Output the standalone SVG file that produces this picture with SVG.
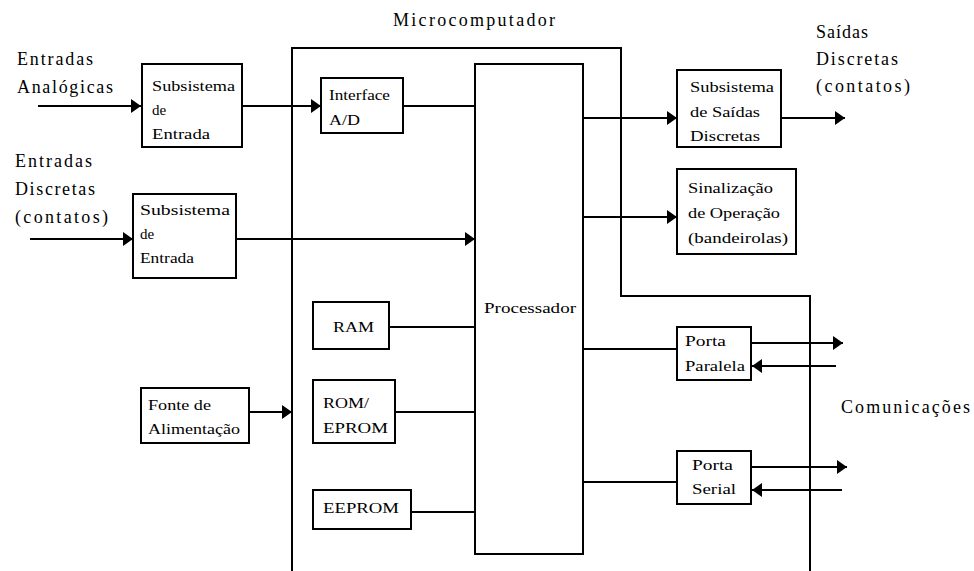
<svg xmlns="http://www.w3.org/2000/svg" width="974" height="571" viewBox="0 0 974 571" font-family="Liberation Serif, DejaVu Serif, serif">
<style>
  .box { fill: #fff; stroke: #000; stroke-width: 2; }
  .frame { fill: none; stroke: #000; stroke-width: 2; }
  .wire { fill: none; stroke: #000; stroke-width: 2; }
  .arr { marker-end: url(#ah); }
  .lbl { font-size: 18px; fill: #000; }
  .txt { font-size: 15px; fill: #000; }
</style>
<defs>
  <marker id="ah" markerUnits="userSpaceOnUse" markerWidth="10" markerHeight="14" refX="10" refY="7" orient="auto" viewBox="0 0 10 14">
    <path d="M0,0 L10,7 L0,14 z" fill="#000"/>
  </marker>
</defs>
<rect width="974" height="571" fill="#fff"/>

<g id="microcomputador">
  <path class="frame" d="M292,571 V48 H621 V296 H810 V571"/>
  <text class="lbl" x="393" y="26" textLength="162" lengthAdjust="spacing" font-family="Liberation Serif, serif">Microcomputador</text>
</g>

<g id="label-entradas-analogicas" font-family="Liberation Serif, serif">
  <text class="lbl" x="17" y="65" textLength="76" lengthAdjust="spacing">Entradas</text>
  <text class="lbl" x="17" y="93" textLength="96" lengthAdjust="spacing">Analógicas</text>
</g>
<g id="label-entradas-discretas" font-family="Liberation Serif, serif">
  <text class="lbl" x="15" y="167" textLength="77" lengthAdjust="spacing">Entradas</text>
  <text class="lbl" x="15" y="195" textLength="80" lengthAdjust="spacing">Discretas</text>
  <text class="lbl" x="15" y="223" textLength="93" lengthAdjust="spacing">(contatos)</text>
</g>
<g id="label-saidas-discretas" font-family="Liberation Serif, serif">
  <text class="lbl" x="816" y="38" textLength="52" lengthAdjust="spacing">Saídas</text>
  <text class="lbl" x="816" y="65" textLength="82" lengthAdjust="spacing">Discretas</text>
  <text class="lbl" x="816" y="92" textLength="94" lengthAdjust="spacing">(contatos)</text>
</g>
<g id="label-comunicacoes" font-family="Liberation Serif, serif">
  <text class="lbl" x="841" y="413" textLength="129" lengthAdjust="spacing">Comunicações</text>
</g>

<g id="subsistema-entrada-1" font-family="Liberation Serif, serif">
  <rect class="box" x="142" y="64" width="100" height="83"/>
  <text class="txt" x="152" y="91" textLength="83" lengthAdjust="spacingAndGlyphs">Subsistema</text>
  <text class="txt" x="152" y="115">de</text>
  <text class="txt" x="152" y="139" textLength="58" lengthAdjust="spacingAndGlyphs">Entrada</text>
</g>
<g id="subsistema-entrada-2" font-family="Liberation Serif, serif">
  <rect class="box" x="133" y="194" width="103" height="84"/>
  <text class="txt" x="140" y="215" textLength="90" lengthAdjust="spacingAndGlyphs">Subsistema</text>
  <text class="txt" x="140" y="239">de</text>
  <text class="txt" x="140" y="263" textLength="54" lengthAdjust="spacingAndGlyphs">Entrada</text>
</g>
<g id="fonte-alimentacao" font-family="Liberation Serif, serif">
  <rect class="box" x="141" y="388" width="108" height="55"/>
  <text class="txt" x="148" y="410" textLength="63" lengthAdjust="spacingAndGlyphs">Fonte de</text>
  <text class="txt" x="148" y="434" textLength="92" lengthAdjust="spacingAndGlyphs">Alimentação</text>
</g>
<g id="interface-ad" font-family="Liberation Serif, serif">
  <rect class="box" x="321" y="78" width="82" height="55"/>
  <text class="txt" x="329" y="100" textLength="61" lengthAdjust="spacingAndGlyphs">Interface</text>
  <text class="txt" x="329" y="125" textLength="31" lengthAdjust="spacingAndGlyphs">A/D</text>
</g>
<g id="ram" font-family="Liberation Serif, serif">
  <rect class="box" x="313" y="302" width="76" height="47"/>
  <text class="txt" x="333" y="332" textLength="41" lengthAdjust="spacingAndGlyphs">RAM</text>
</g>
<g id="rom-eprom" font-family="Liberation Serif, serif">
  <rect class="box" x="313" y="380" width="82" height="63"/>
  <text class="txt" x="323" y="408" textLength="46" lengthAdjust="spacingAndGlyphs">ROM/</text>
  <text class="txt" x="323" y="433" textLength="65" lengthAdjust="spacingAndGlyphs">EPROM</text>
</g>
<g id="eeprom" font-family="Liberation Serif, serif">
  <rect class="box" x="313" y="490" width="98" height="39"/>
  <text class="txt" x="323" y="513" textLength="76" lengthAdjust="spacingAndGlyphs">EEPROM</text>
</g>
<g id="processador" font-family="Liberation Serif, serif">
  <rect class="box" x="475" y="64" width="108" height="490"/>
  <text class="txt" x="484" y="313" textLength="92" lengthAdjust="spacingAndGlyphs">Processador</text>
</g>
<g id="subsistema-saidas" font-family="Liberation Serif, serif">
  <rect class="box" x="677" y="70" width="104" height="77"/>
  <text class="txt" x="690" y="92" textLength="84" lengthAdjust="spacingAndGlyphs">Subsistema</text>
  <text class="txt" x="690" y="117" textLength="70" lengthAdjust="spacingAndGlyphs">de Saídas</text>
  <text class="txt" x="690" y="141" textLength="70" lengthAdjust="spacingAndGlyphs">Discretas</text>
</g>
<g id="sinalizacao" font-family="Liberation Serif, serif">
  <rect class="box" x="677" y="169" width="119" height="85"/>
  <text class="txt" x="688" y="193" textLength="85" lengthAdjust="spacingAndGlyphs">Sinalização</text>
  <text class="txt" x="688" y="218" textLength="92" lengthAdjust="spacingAndGlyphs">de Operação</text>
  <text class="txt" x="688" y="243" textLength="100" lengthAdjust="spacingAndGlyphs">(bandeirolas)</text>
</g>
<g id="porta-paralela" font-family="Liberation Serif, serif">
  <rect class="box" x="677" y="327" width="74" height="53"/>
  <text class="txt" x="685" y="346" textLength="41" lengthAdjust="spacingAndGlyphs">Porta</text>
  <text class="txt" x="685" y="371" textLength="60" lengthAdjust="spacingAndGlyphs">Paralela</text>
</g>
<g id="porta-serial" font-family="Liberation Serif, serif">
  <rect class="box" x="677" y="451" width="74" height="53"/>
  <text class="txt" x="692" y="470" textLength="41" lengthAdjust="spacingAndGlyphs">Porta</text>
  <text class="txt" x="692" y="494" textLength="44" lengthAdjust="spacingAndGlyphs">Serial</text>
</g>

<g id="connectors">
  <path class="wire arr" d="M38,106 H141"/>
  <path class="wire arr" d="M242,106 H321"/>
  <path class="wire" d="M403,106 H475"/>
  <path class="wire arr" d="M30,239 H133"/>
  <path class="wire arr" d="M236,239 H475"/>
  <path class="wire arr" d="M249,412 H292"/>
  <path class="wire" d="M389,327 H475"/>
  <path class="wire" d="M395,412 H475"/>
  <path class="wire" d="M411,512 H475"/>
  <path class="wire arr" d="M583,118 H677"/>
  <path class="wire arr" d="M583,217 H677"/>
  <path class="wire arr" d="M781,118 H845"/>
  <path class="wire" d="M583,349 H677"/>
  <path class="wire" d="M583,482 H677"/>
  <path class="wire arr" d="M751,343 H843"/>
  <path class="wire arr" d="M836,366 H752"/>
  <path class="wire arr" d="M751,467 H847"/>
  <path class="wire arr" d="M842,490 H752"/>
</g>
</svg>
